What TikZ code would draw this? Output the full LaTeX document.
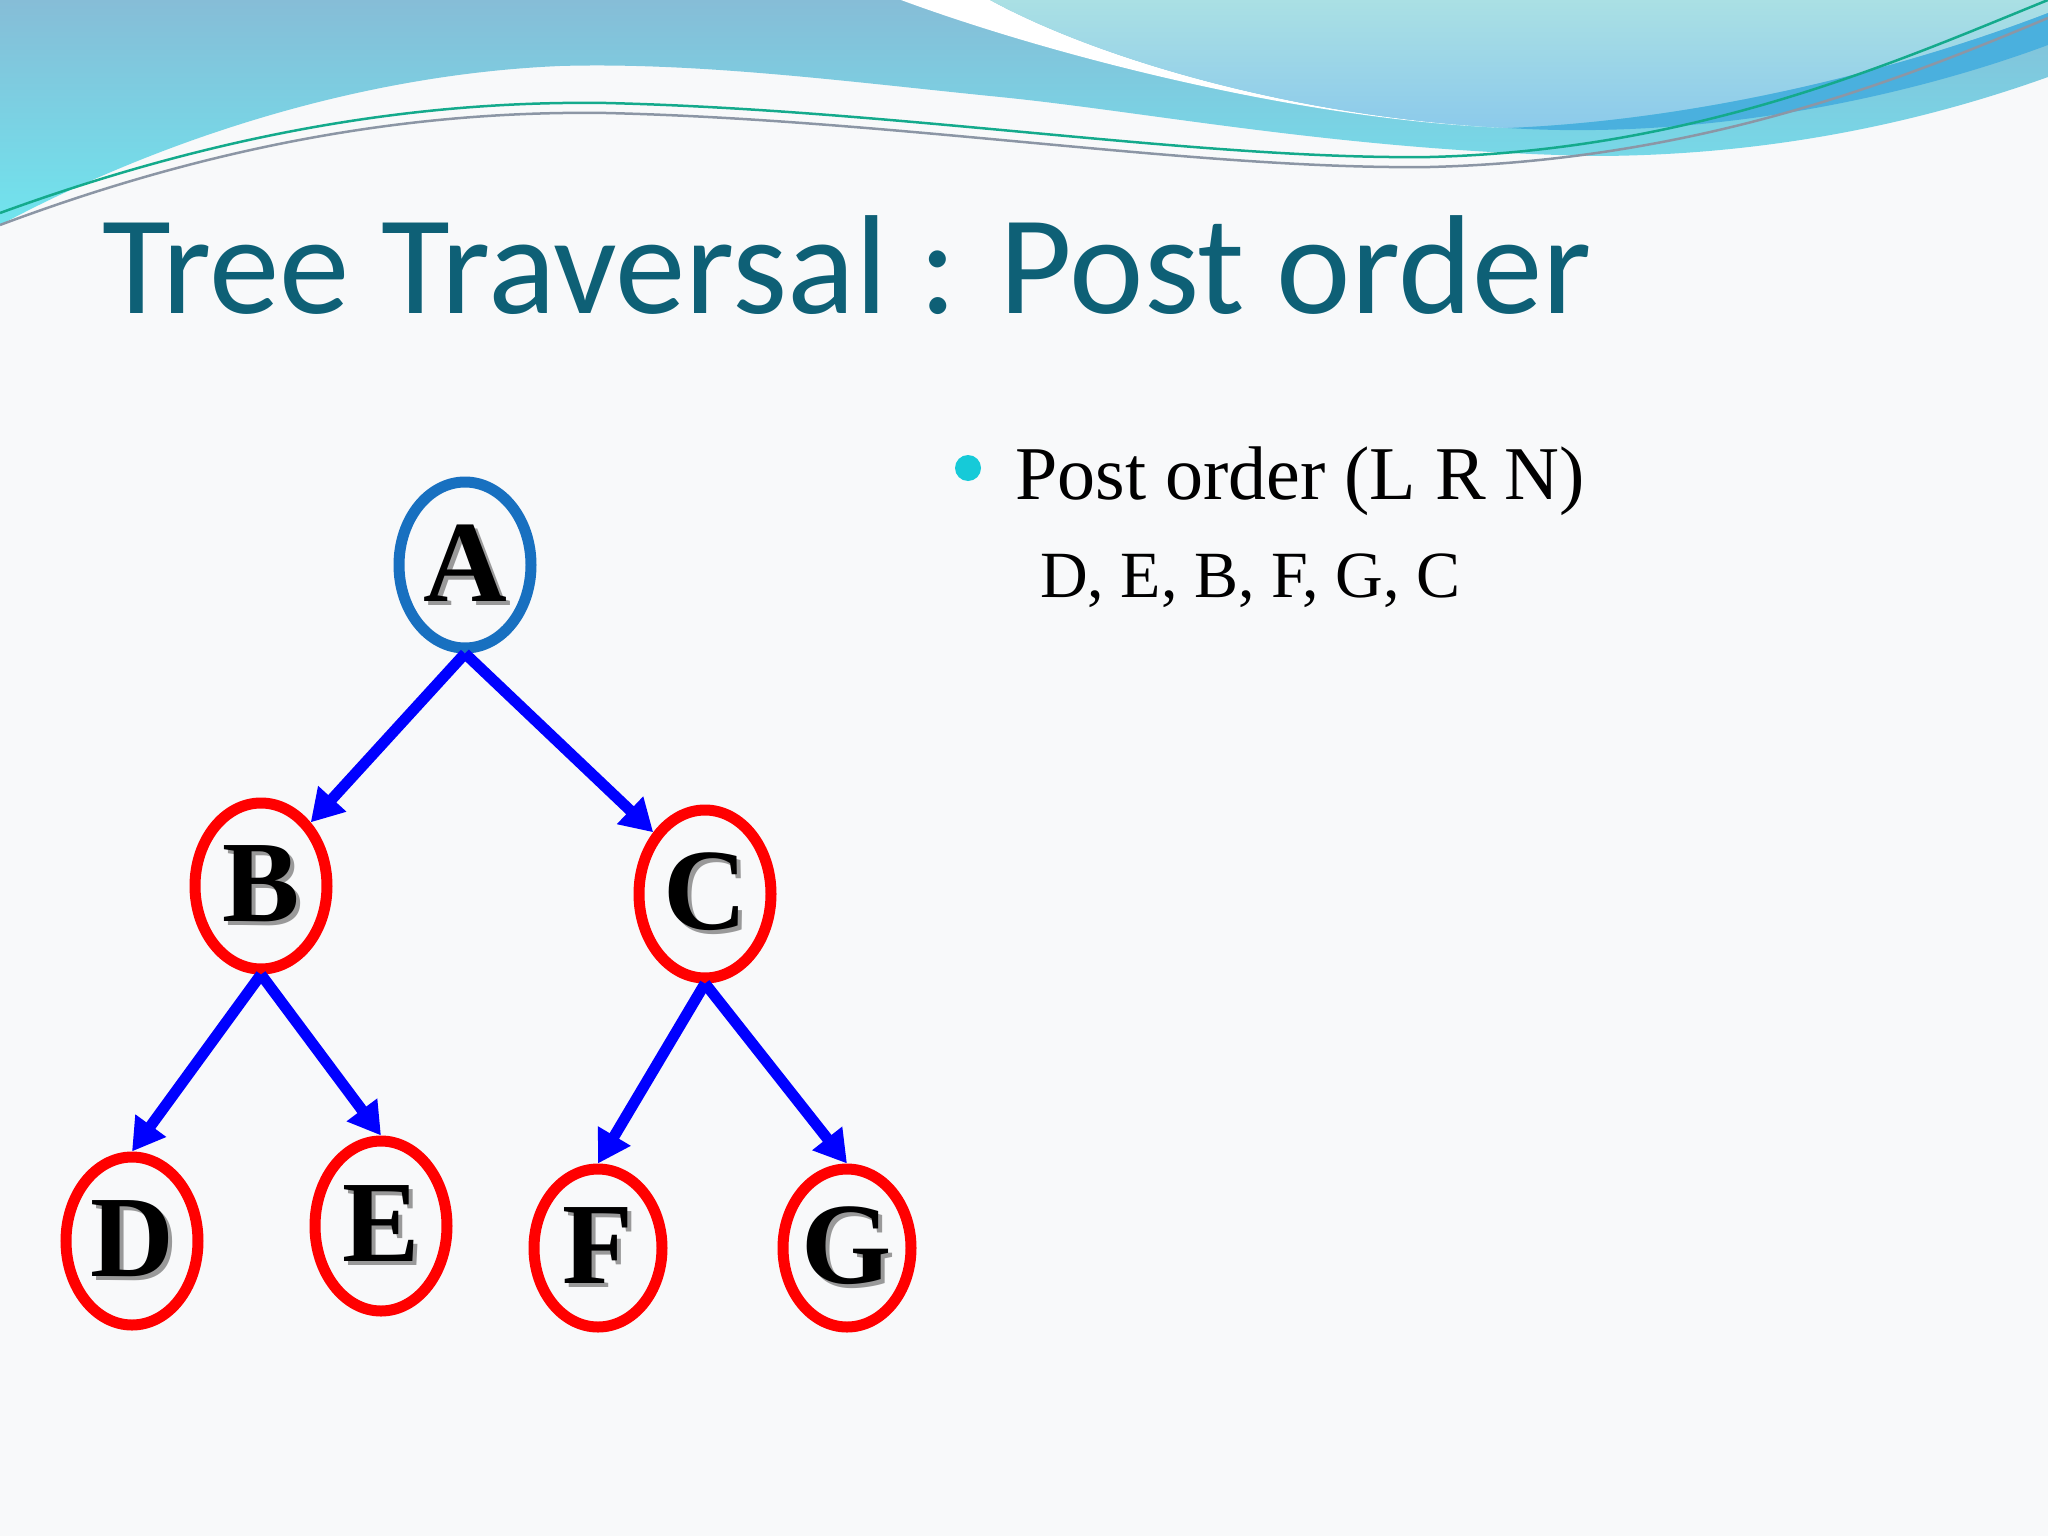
\documentclass[tikz,border=0pt]{standalone}
\usepackage{fontspec}
\setmainfont{Liberation Serif}
\newfontfamily\titlefont{Carlito}
\usepackage{tikz}
\usetikzlibrary{shapes.geometric,arrows.meta}
\definecolor{titleblue}{RGB}{14,96,118}
\definecolor{rootblue}{RGB}{24,112,192}
\definecolor{bulletcyan}{RGB}{22,202,216}
\definecolor{wavetop}{RGB}{134,189,215}
\definecolor{wavelow}{RGB}{112,228,238}
\definecolor{lighttop}{RGB}{170,224,228}
\definecolor{lightlow}{RGB}{140,202,235}
\definecolor{bandblue}{RGB}{74,176,222}
\definecolor{paper}{RGB}{248,249,250}
\definecolor{linegreen}{RGB}{20,170,140}
\definecolor{linegray}{RGB}{140,150,165}
\tikzset{
  vertex/.style={ellipse, draw=red, line width=11pt, inner sep=0pt, minimum width=132pt, minimum height=166pt, font=\fontsize{116pt}{116pt}\selectfont\bfseries},
  root/.style={vertex, draw=rootblue},
  edge/.style={-{Triangle[length=32pt,width=36pt]}, line width=11pt, blue},
}
\newcommand{\shletter}[1]{\makebox[0pt][l]{\hspace{4pt}\raisebox{-4pt}{\textcolor{black!40}{#1}}}#1}
\begin{document}
\begin{tikzpicture}[x=1pt,y=-1pt]
\useasboundingbox (0,0) rectangle (2048,1536);
\fill[paper] (0,0) rectangle (2048,1536);
\shade[top color=wavetop, bottom color=wavelow] (0,0) -- (2048,0) -- (2048,77) .. controls (1900,130) and (1750,155) .. (1600,156) .. controls (1350,152) and (1150,112) .. (1000,97) .. controls (850,82) and (700,62) .. (560,66) .. controls (350,75) and (150,145) .. (0,225) -- cycle;
\fill[white] (901,0) .. controls (1050,55) and (1300,120) .. (1508,128) .. controls (1300,118) and (1100,60) .. (990,0) -- cycle;
\shade[top color=lighttop, bottom color=lightlow] (990,0) .. controls (1100,60) and (1300,118) .. (1508,128) .. controls (1700,120) and (1900,70) .. (2048,13) -- (2048,0) -- cycle;
\fill[bandblue] (1508,128) .. controls (1700,120) and (1900,70) .. (2048,13) -- (2048,45) .. controls (1900,100) and (1700,140) .. (1508,128) -- cycle;
\draw[linegreen, line width=2.5pt] (0,213) .. controls (200,140) and (400,100) .. (606,103) .. controls (900,110) and (1200,160) .. (1430,157) .. controls (1700,150) and (1900,60) .. (2048,0);
\draw[linegray, line width=2.5pt] (0,225) .. controls (200,150) and (400,110) .. (606,113) .. controls (900,120) and (1200,170) .. (1430,167) .. controls (1700,160) and (1900,80) .. (2048,18);

\node[anchor=base west, inner sep=0pt, text=titleblue, font=\titlefont\fontsize{141pt}{141pt}\selectfont] (title) at (102,313) {Tree Traversal : Post order};

\node[circle, fill=bulletcyan, minimum size=26pt, inner sep=0pt] (dot) at (968,468) {};
\node[anchor=base west, inner sep=0pt, font=\fontsize{76pt}{76pt}\selectfont] (rule) at (1015,499) {Post order (L R N)};
\node[anchor=base west, inner sep=0pt, font=\fontsize{66pt}{66pt}\selectfont] (seq) at (1040,597) {D, E, B, F, G, C};

\node[root] (A) at (465,565) {\shletter{A}};
\node[vertex] (B) at (261,886) {\shletter{B}};
\node[vertex, minimum height=168pt] (C) at (705,894) {\shletter{C}};
\node[vertex, minimum height=168pt] (D) at (132,1241) {\shletter{D}};
\node[vertex, minimum height=170pt] (E) at (381,1226) {\shletter{E}};
\node[vertex, minimum width=128pt, minimum height=158pt] (F) at (598,1248) {\shletter{F}};
\node[vertex, minimum width=128pt, minimum height=158pt] (G) at (847,1248) {\shletter{G}};

\draw[edge] (A.south) -- (B.52);
\draw[edge] (A.south) -- (C.130);
\draw[edge] (B.south) -- (D.north);
\draw[edge] (B.south) -- (E.north);
\draw[edge] (C.south) -- (F.north);
\draw[edge] (C.south) -- (G.north);
\end{tikzpicture}
\end{document}
